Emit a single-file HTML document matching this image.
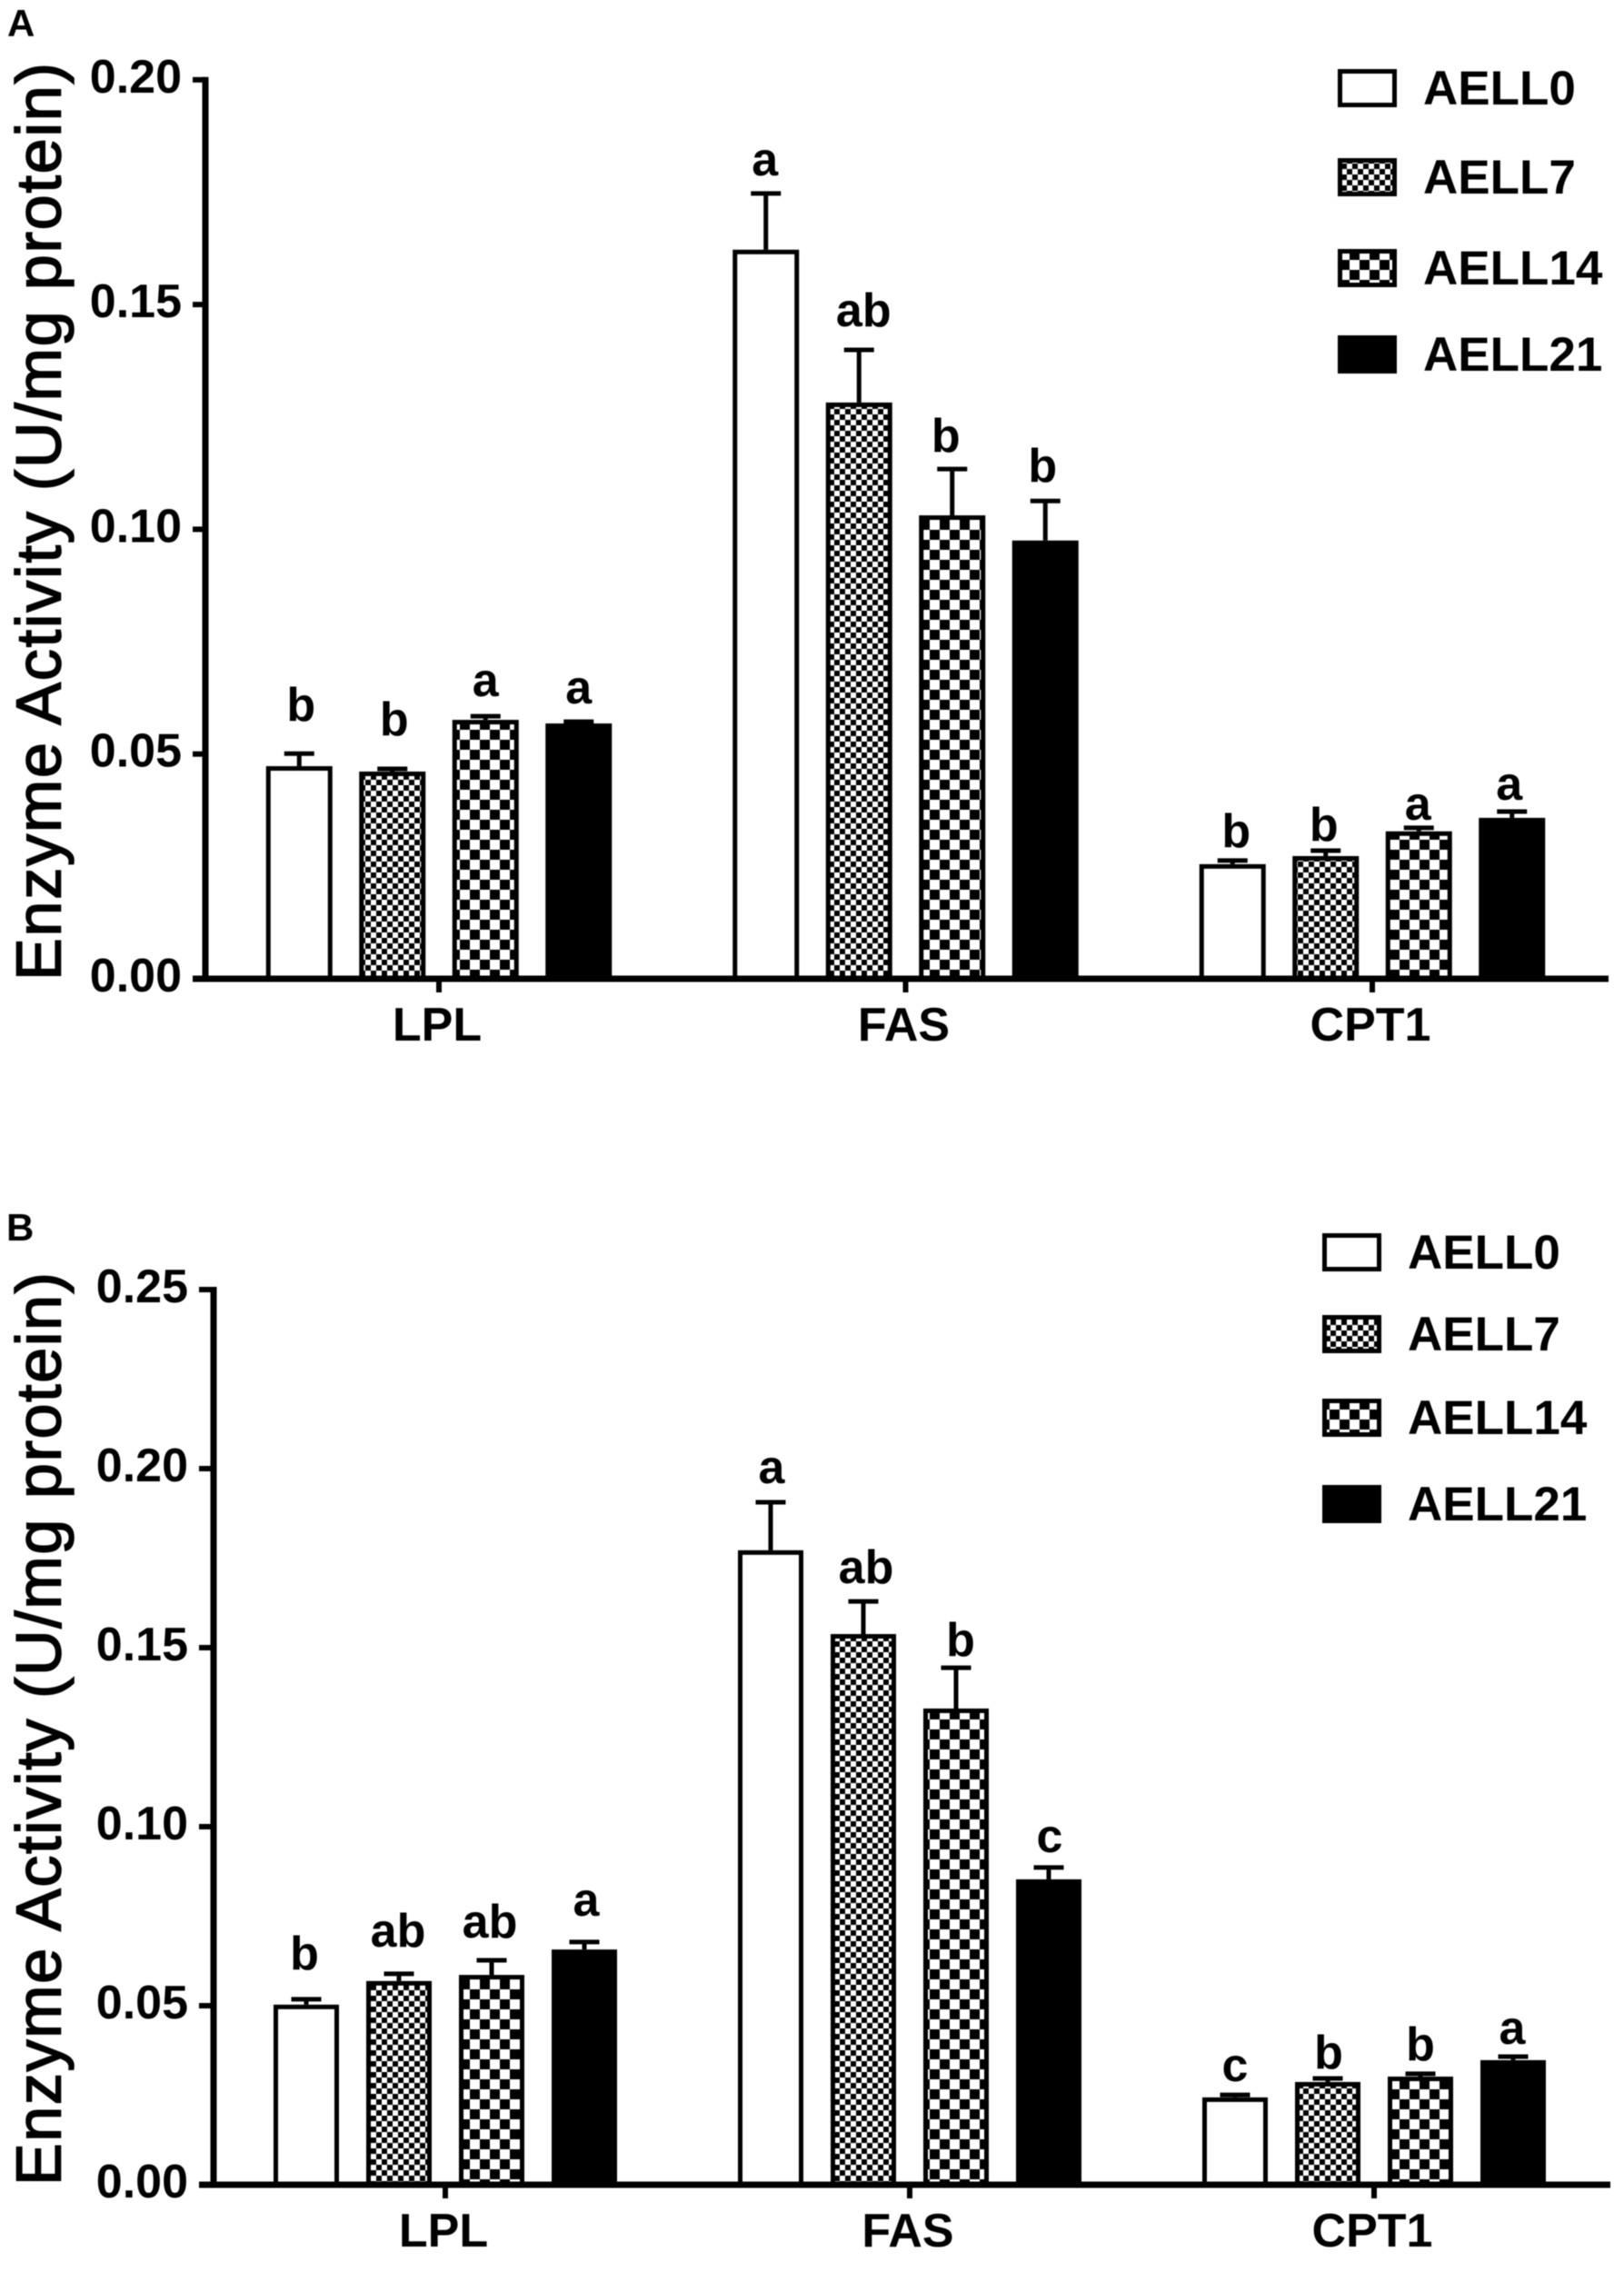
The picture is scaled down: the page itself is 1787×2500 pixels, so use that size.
<!DOCTYPE html>
<html lang="en">
<head>
<meta charset="utf-8">
<title>Enzyme Activity Bar Charts</title>
<style>
html,body{margin:0;padding:0;background:#fff;}
#figure{display:block;width:1787px;height:2500px;filter:blur(0.5px);}
text{font-family:"Liberation Sans",Arial,sans-serif;fill:#000;}
.b{font-weight:700;}
</style>
</head>
<body>
<svg id="figure" xmlns="http://www.w3.org/2000/svg" width="1787" height="2500" viewBox="0 0 1787 2500">
  <defs>
    <pattern id="fine-check" patternUnits="userSpaceOnUse" width="12" height="12">
      <rect width="12" height="12" fill="#fff"/>
      <rect width="6" height="6" fill="#000"/>
      <rect x="6" y="6" width="6" height="6" fill="#000"/>
    </pattern>
    <pattern id="coarse-check" patternUnits="userSpaceOnUse" width="22" height="22">
      <rect width="22" height="22" fill="#fff"/>
      <rect width="11" height="11" fill="#000"/>
      <rect x="11" y="11" width="11" height="11" fill="#000"/>
    </pattern>
  </defs>
  <rect width="1787" height="2500" fill="#fff"/>
  <text class="b" x="8" y="40" font-size="42">A</text>
  <text class="b" x="7" y="1365" font-size="42">B</text>
  <text transform="translate(66.6,1079) rotate(-90)" font-size="70" textLength="1010" lengthAdjust="spacing" stroke="#000" stroke-width="1.6">Enzyme Activity (U/mg protein)</text>
  <text transform="translate(66.6,2405) rotate(-90)" font-size="70" textLength="1005" lengthAdjust="spacing" stroke="#000" stroke-width="1.6">Enzyme Activity (U/mg protein)</text>
  <g id="panel-a"></g>
  <g id="panel-b"></g>
</svg>
<script>
// ---- shared categories and series ----
const categories = ['LPL', 'FAS', 'CPT1'];
const seriesNames = ['AELL0', 'AELL7', 'AELL14', 'AELL21'];

// ---- panel A data: each array is [LPL, FAS, CPT1] ----
const tickValuesA = [0, 0.05, 0.10, 0.15, 0.20];
const tickLabelsA = ['0.00', '0.05', '0.10', '0.15', '0.20'];
const meansA0 = [0.0473, 0.1622, 0.0255];
const meansA7 = [0.0461, 0.1282, 0.0273];
const meansA14 = [0.0576, 0.1031, 0.0328];
const meansA21 = [0.0568, 0.0975, 0.0358];
const errorsA0 = [0.0028, 0.0125, 0.0008];
const errorsA7 = [0.0006, 0.0117, 0.0012];
const errorsA14 = [0.0008, 0.0103, 0.0008];
const errorsA21 = [0.0004, 0.0088, 0.0014];
const lettersA0 = ['b', 'a', 'b'];
const lettersA7 = ['b', 'ab', 'b'];
const lettersA14 = ['a', 'b', 'a'];
const lettersA21 = ['a', 'b', 'a'];

// ---- panel B data: each array is [LPL, FAS, CPT1] ----
const tickValuesB = [0, 0.05, 0.10, 0.15, 0.20, 0.25];
const tickLabelsB = ['0.00', '0.05', '0.10', '0.15', '0.20', '0.25'];
const meansB0 = [0.0503, 0.1772, 0.0244];
const meansB7 = [0.0569, 0.1538, 0.0287];
const meansB14 = [0.0586, 0.1330, 0.0302];
const meansB21 = [0.0657, 0.0853, 0.0348];
const errorsB0 = [0.0015, 0.0134, 0.0007];
const errorsB7 = [0.0020, 0.0091, 0.0010];
const errorsB14 = [0.0041, 0.0114, 0.0008];
const errorsB21 = [0.0021, 0.0033, 0.0010];
const lettersB0 = ['b', 'a', 'c'];
const lettersB7 = ['ab', 'ab', 'b'];
const lettersB14 = ['ab', 'b', 'b'];
const lettersB21 = ['a', 'c', 'a'];

// ---- layout (not data) ----
const NS = 'http://www.w3.org/2000/svg';
const fills = ['#fff', 'url(#fine-check)', 'url(#coarse-check)', '#000'];
const panelA = {
  root: 'panel-a', key: 'a',
  means: [meansA0, meansA7, meansA14, meansA21],
  errors: [errorsA0, errorsA7, errorsA14, errorsA21],
  letters: [lettersA0, lettersA7, lettersA14, lettersA21],
  ticks: tickValuesA, tickLabels: tickLabelsA,
  y0: 1077, pxPerUnit: 4946,
  axisX: 226, tickLeft: 212, axisRight: 1770, tickTextRight: 200,
  groupStart: 483, groupStep: 513.5, barStep: 102.5, barWidth: 73,
  labelBaseline: 1145,
  gaps: [[36, 20, 15], [37, 26, 11], [22, 19, 9], [20, 21, 13]],
  shifts: [[2, -1, 4], [2, 5, -2], [0, -7, -1], [0, -3, -3]],
  legendBox: 1472, legendText: 1566, legendTops: [76, 174, 274, 369]
};
const panelB = {
  root: 'panel-b', key: 'b',
  means: [meansB0, meansB7, meansB14, meansB21],
  errors: [errorsB0, errorsB7, errorsB14, errorsB21],
  letters: [lettersB0, lettersB7, lettersB14, lettersB21],
  ticks: tickValuesB, tickLabels: tickLabelsB,
  y0: 2404, pxPerUnit: 3940,
  axisX: 235, tickLeft: 219, axisRight: 1772, tickTextRight: 207,
  groupStart: 490, groupStep: 511, barStep: 102, barWidth: 72,
  labelBaseline: 2472,
  gaps: [[33, 21, 15], [30, 20, 11], [25, 13, 15], [29, 17, 14]],
  shifts: [[-2, 1, 0], [-1, 3, 1], [-2, 5, 0], [2, 1, -1]],
  legendBox: 1455, legendText: 1549, legendTops: [1357, 1447, 1539, 1634]
};

function mk(parent, tag, attrs, text) {
  const el = document.createElementNS(NS, tag);
  for (const k in attrs) el.setAttribute(k, attrs[k]);
  if (text !== undefined) el.textContent = text;
  parent.appendChild(el);
  return el;
}

function drawPanel(p) {
  const root = document.getElementById(p.root);
  const yScale = v => p.y0 - v * p.pxPerUnit;
  const groupX = c => p.groupStart + c * p.groupStep;
  const barX = (c, s) => groupX(c) + (s - 1.5) * p.barStep;

  // bars, error bars, significance letters
  p.means.forEach((values, s) => {
    values.forEach((value, c) => {
      const cx = barX(c, s);
      const top = yScale(value);
      const bar = mk(root, 'rect', {
        x: cx - p.barWidth / 2 + 2.5, y: top + 2.5,
        width: p.barWidth - 5, height: p.y0 - top - 2.5,
        fill: fills[s], stroke: '#000', 'stroke-width': 5
      });
      
      

      const capY = yScale(value + p.errors[s][c]);
      const stem = mk(root, 'line', { x1: cx, x2: cx, y1: top, y2: capY, stroke: '#000', 'stroke-width': 5 });
      
      
      const cap = mk(root, 'line', { x1: cx - 16.5, x2: cx + 16.5, y1: capY, y2: capY, stroke: '#000', 'stroke-width': 5 });
      
      

      const letter = mk(root, 'text', {
        x: cx + p.shifts[s][c], y: capY - p.gaps[s][c], 'text-anchor': 'middle', 'font-size': 52, class: 'b'
      }, p.letters[s][c]);
      
      
    });
  });

  // y axis
  const yAxis = mk(root, 'line', {
    x1: p.axisX, x2: p.axisX, y1: yScale(p.ticks[p.ticks.length - 1]) - 3, y2: p.y0,
    stroke: '#000', 'stroke-width': 7
  });
  
  
  p.ticks.forEach((t, i) => {
    const ty = yScale(t);
    const mark = mk(root, 'line', { x1: p.tickLeft, x2: p.axisX, y1: ty, y2: ty, stroke: '#000', 'stroke-width': 6 });
    
    
    const label = mk(root, 'text', {
      x: p.tickTextRight, y: ty + 14, 'text-anchor': 'end', 'font-size': 52, class: 'b'
    }, p.tickLabels[i]);
    
    
  });

  // x axis
  const xAxis = mk(root, 'line', { x1: p.tickLeft, x2: p.axisRight, y1: p.y0, y2: p.y0, stroke: '#000', 'stroke-width': 7 });
  
  
  categories.forEach((name, c) => {
    const gx = groupX(c);
    const mark = mk(root, 'line', { x1: gx, x2: gx, y1: p.y0, y2: p.y0 + 15, stroke: '#000', 'stroke-width': 6 });
    
    
    const label = mk(root, 'text', {
      x: gx - 2, y: p.labelBaseline, 'text-anchor': 'middle', 'font-size': 52, class: 'b'
    }, name);
    
    
  });

  // legend
  seriesNames.forEach((name, s) => {
    const top = p.legendTops[s];
    const swatch = mk(root, 'rect', {
      x: p.legendBox + 2.5, y: top + 2.5, width: 60, height: 37,
      fill: fills[s], stroke: '#000', 'stroke-width': 5
    });
    
    
    const label = mk(root, 'text', {
      x: p.legendText, y: top + 39, 'font-size': 53, class: 'b'
    }, name);
    
    
  });
}

drawPanel(panelA);
drawPanel(panelB);
</script>
</body>
</html>
